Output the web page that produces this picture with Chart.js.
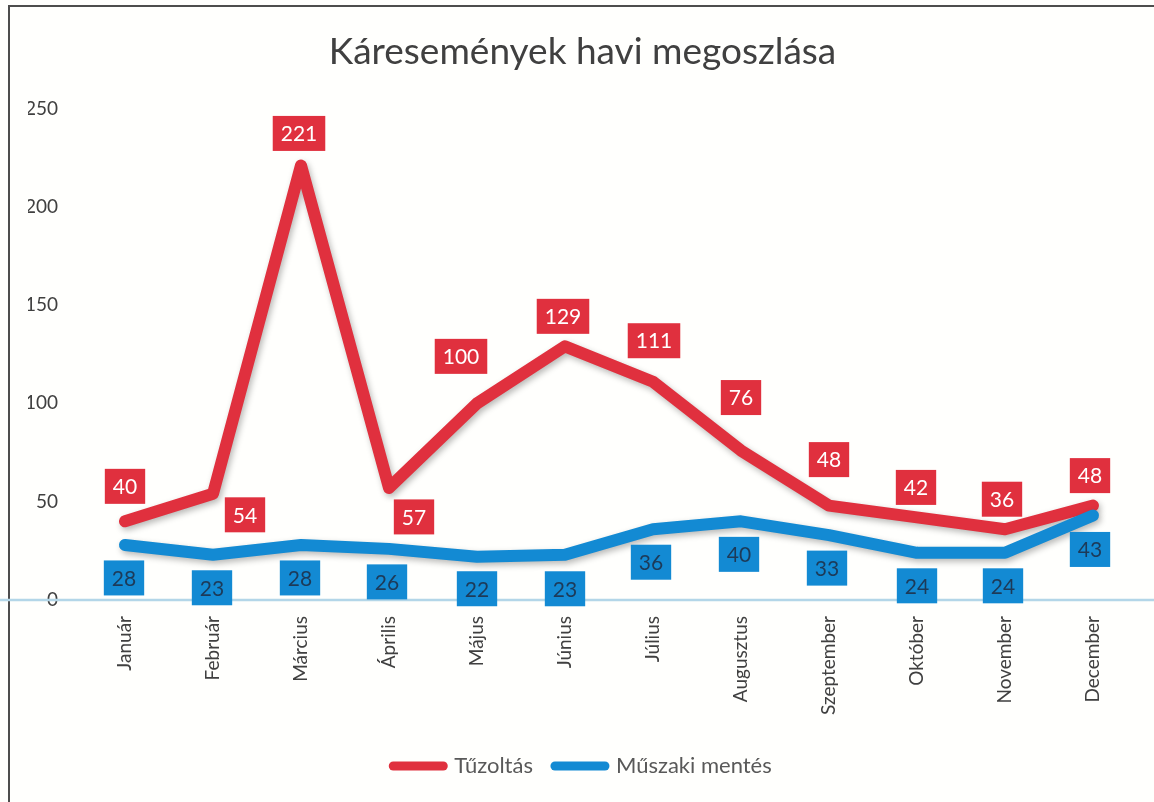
<!DOCTYPE html>
<html>
<head>
<meta charset="utf-8">
<script src="https://cdn.jsdelivr.net/npm/chart.js@4.4.1/dist/chart.umd.min.js"></script>
<style>
html,body{margin:0;padding:0;background:#fff;}
canvas{display:block;}
</style>
</head>
<body>
<canvas id="lineChart" width="1154" height="802"></canvas>
<script>
var months = ["Január", "Február", "Március", "Április", "Május", "Június", "Július", "Augusztus", "Szeptember", "Október", "November", "December"];
var tuzoltas = [40, 54, 221, 57, 100, 129, 111, 76, 48, 42, 36, 48];
var muszaki = [28, 23, 28, 26, 22, 23, 36, 40, 33, 24, 24, 43];
var yTicks = [0, 50, 100, 150, 200, 250];

var RED = "#E0303E";
var BLUE = "#138AD3";
var FONT = "Lato, 'Open Sans', sans-serif";

// where each value box sits, relative to its point
var redShift = [[0,-35],[32,21],[-2,-32],[25,29],[-16,-47],[-2,-30],[1,-41],[0,-53],[0,-46],[-1,-30],[-3,-30],[-3,-30]];
var blueShift = [[-1,33],[-1,33],[-1,33],[-2,33],[0,32],[0,34],[-2,33],[-2,33],[-2,33],[0,33],[-2,33],[-3,34]];
var shifts = [redShift, blueShift];
var boxText = ["#ffffff", "#1d3a58"];

var frame = {
    id: 'frame',
    beforeDraw: function(chart) {
        var c = chart.ctx;
        c.save();
        c.fillStyle = "#fffffd";
        c.fillRect(0, 0, chart.width, chart.height);
        c.strokeStyle = "#4d4d4d";
        c.lineWidth = 2;
        c.beginPath();
        c.moveTo(9, chart.height);
        c.lineTo(9, 6);
        c.lineTo(chart.width, 6);
        c.stroke();
        c.restore();
    },
    beforeDatasetsDraw: function(chart) {
        var c = chart.ctx;
        var y0 = chart.scales.y.getPixelForValue(0);
        c.save();
        c.strokeStyle = "#b3d6e8";
        c.lineWidth = 2.5;
        c.beginPath();
        c.moveTo(0, y0);
        c.lineTo(chart.width, y0);
        c.stroke();
        c.restore();
    },
    beforeDatasetDraw: function(chart) {
        var c = chart.ctx;
        c.save();
        c.shadowColor = "rgba(0,0,0,0.28)";
        c.shadowBlur = 6;
        c.shadowOffsetX = 2;
        c.shadowOffsetY = 3;
    },
    afterDatasetDraw: function(chart) {
        chart.ctx.restore();
    }
};

var boxLabels = {
    id: 'boxLabels',
    afterDatasetsDraw: function(chart) {
        var c = chart.ctx;
        c.save();
        c.font = "21px " + FONT;
        c.textAlign = "center";
        c.textBaseline = "middle";
        chart.data.datasets.forEach(function(ds, di) {
            var meta = chart.getDatasetMeta(di);
            meta.data.forEach(function(pt, i) {
                var txt = String(ds.data[i]);
                var w = c.measureText(txt).width + 16;
                var h = 35;
                var x = pt.x + shifts[di][i][0];
                var y = pt.y + shifts[di][i][1];
                c.fillStyle = ds.borderColor;
                c.fillRect(x - w / 2, y - h / 2, w, h);
                c.fillStyle = boxText[di];
                c.fillText(txt, x, y + 1);
            });
        });
        c.restore();
    }
};

var dataLine = {
    labels: months,
    datasets: [
        {
            label: "Tűzoltás",
            data: tuzoltas,
            borderColor: RED,
            backgroundColor: RED,
            borderWidth: 12,
            borderJoinStyle: 'round',
            borderCapStyle: 'round',
            pointRadius: 0,
            tension: 0,
            fill: false,
            order: 1
        },
        {
            label: "Műszaki mentés",
            data: muszaki,
            borderColor: BLUE,
            backgroundColor: BLUE,
            borderWidth: 12,
            borderJoinStyle: 'round',
            borderCapStyle: 'round',
            pointRadius: 0,
            tension: 0,
            fill: false,
            order: 0
        }
    ]
};

var optionsLine = {
    responsive: false,
    animation: false,
    layout: {
        padding: { left: 28, right: 17, top: 10, bottom: 15 }
    },
    plugins: {
        title: {
            display: true,
            text: "Káresemények havi megoszlása",
            color: "#404040",
            font: { family: FONT, size: 37, weight: 'normal' },
            padding: { top: 20, bottom: 34 }
        },
        legend: {
            display: true,
            position: 'bottom',
            labels: {
                usePointStyle: true,
                pointStyleWidth: 50,
                boxHeight: 10,
                padding: 22,
                color: "#595959",
                font: { family: FONT, size: 22 },
                generateLabels: function(chart) {
                    return chart.data.datasets.map(function(ds, i) {
                        return {
                            text: ds.label,
                            fillStyle: ds.borderColor,
                            strokeStyle: ds.borderColor,
                            lineWidth: 9,
                            lineCap: 'round',
                            pointStyle: 'line',
                            fontColor: "#595959",
                            hidden: false,
                            datasetIndex: i
                        };
                    });
                }
            }
        },
        tooltip: { enabled: false }
    },
    scales: {
        x: {
            offset: true,
            grid: { display: false, drawTicks: false },
            border: { display: false },
            ticks: {
                color: "#404040",
                font: { family: FONT, size: 19 },
                minRotation: 90,
                maxRotation: 90,
                padding: 16
            },
            afterFit: function(scale) { scale.height = 133; }
        },
        y: {
            min: 0,
            max: 250,
            grid: { display: false, drawTicks: false },
            border: { display: false },
            ticks: {
                color: "#404040",
                font: { family: FONT, size: 19 },
                padding: 23
            },
            afterBuildTicks: function(scale) {
                scale.ticks = yTicks.map(function(v) { return { value: v }; });
            },
            afterFit: function(scale) { scale.width = 53; }
        }
    }
};

var ctx = document.getElementById("lineChart");
var lineChart = new Chart(ctx, {
    type: 'line',
    data: dataLine,
    options: optionsLine,
    plugins: [frame, boxLabels]
});
</script>
</body>
</html>
